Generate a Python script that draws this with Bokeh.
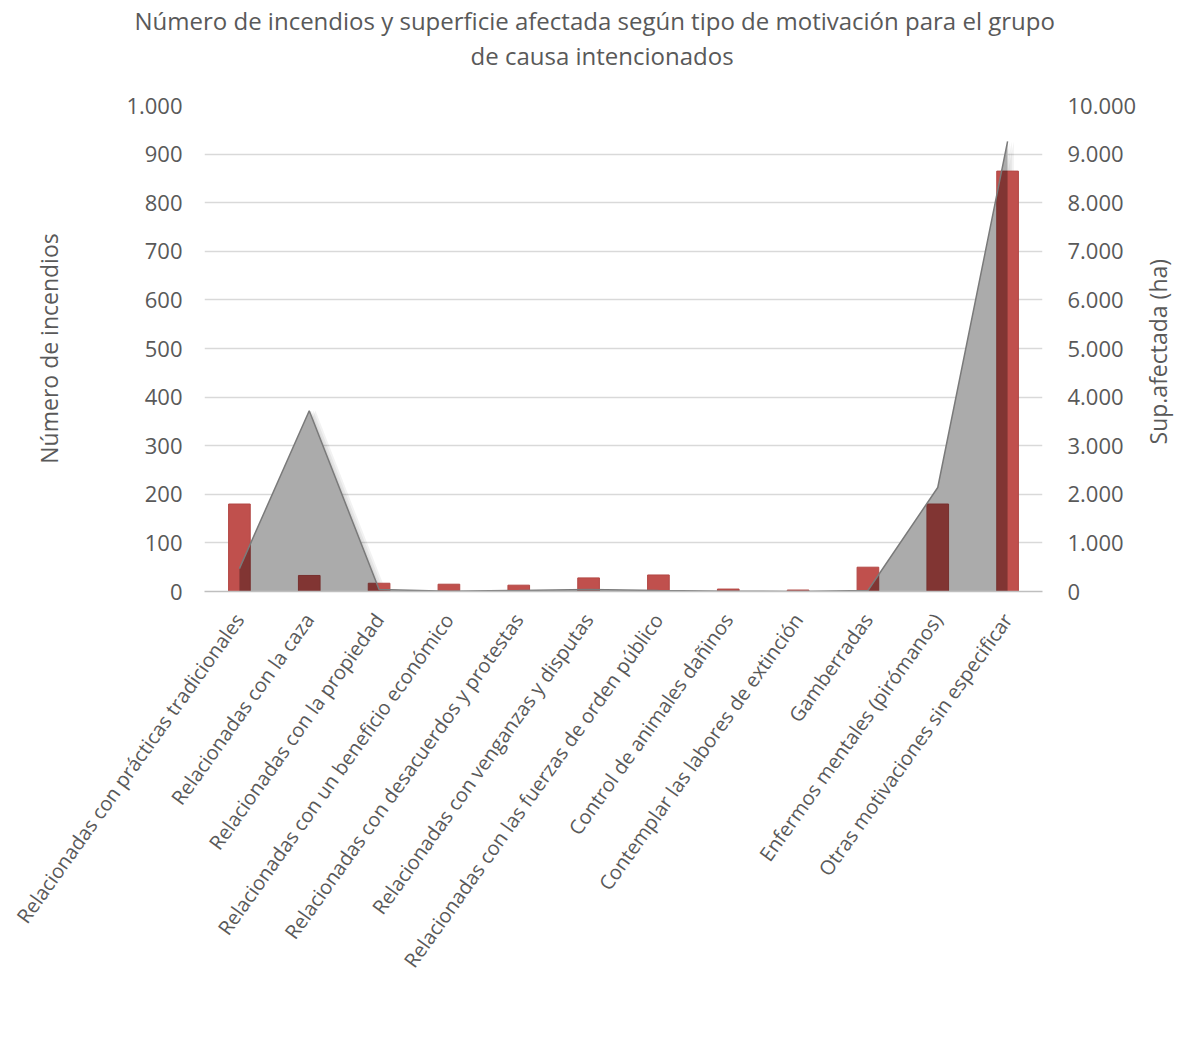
import math
from bokeh.plotting import figure
from bokeh.models import (FactorRange, Range1d, LinearAxis, FixedTicker, Legend,
                          LegendItem, Title)
from bokeh.transform import dodge
from bokeh.embed import file_html
from bokeh.resources import INLINE

# ---------------- data ----------------
categories = [
    "Relacionadas con prácticas tradicionales",
    "Relacionadas con la caza",
    "Relacionadas con la propiedad",
    "Relacionadas con un beneficio económico",
    "Relacionadas con desacuerdos y protestas",
    "Relacionadas con venganzas y disputas",
    "Relacionadas con las fuerzas de orden público",
    "Control de animales dañinos",
    "Contemplar las labores de extinción",
    "Gamberradas",
    "Enfermos mentales (pirómanos)",
    "Otras motivaciones sin especificar",
]
numero = [180, 33, 17, 15, 13, 28, 34, 5, 3, 50, 180, 865]
superficie = [470, 3720, 40, 5, 20, 40, 20, 5, 2, 20, 2140, 9260]

left_ticks = [0, 100, 200, 300, 400, 500, 600, 700, 800, 900, 1000]
left_labels = ["0", "100", "200", "300", "400", "500", "600", "700", "800", "900", "1.000"]
right_ticks = [0, 1000, 2000, 3000, 4000, 5000, 6000, 7000, 8000, 9000, 10000]
right_labels = ["0", "1.000", "2.000", "3.000", "4.000", "5.000", "6.000", "7.000",
                "8.000", "9.000", "10.000"]

title_1 = "Número de incendios y superficie afectada según tipo de motivación para el grupo"
title_2 = "de causa intencionados"
left_title = "Número de incendios"
right_title = "Sup.afectada (ha)"

FONT = "Open Sans"
TXT = "#595959"
FW, FH = 838, 486

p = figure(x_range=FactorRange(factors=categories), y_range=Range1d(0, 1000),
           frame_width=FW, frame_height=FH,
           min_border_left=204, min_border_right=144, min_border_top=105, min_border_bottom=436,
           output_backend="svg", toolbar_location=None, title=None)
p.extra_y_ranges = {"sup": Range1d(0, 10000)}
p.outline_line_color = None
p.background_fill_color = "white"
p.border_fill_color = "white"

p.xgrid.grid_line_color = None
p.ygrid.grid_line_color = "#D9D9D9"
p.ygrid.grid_line_width = 1.5

# left axis
ya = p.yaxis[0]
ya.ticker = FixedTicker(ticks=left_ticks)
ya.major_label_overrides = {t: l for t, l in zip(left_ticks, left_labels)}
ya.axis_line_color = None
ya.major_tick_line_color = None
ya.minor_tick_line_color = None
ya.major_label_text_font = FONT
ya.major_label_text_font_size = "22px"
ya.major_label_text_color = TXT
ya.major_label_standoff = 16
ya.axis_label = left_title
ya.axis_label_text_font = FONT
ya.axis_label_text_font_size = "23px"
ya.axis_label_text_font_style = "normal"
ya.axis_label_text_color = TXT
ya.axis_label_standoff = 58

# right axis (tick labels)
ra = LinearAxis(y_range_name="sup", ticker=FixedTicker(ticks=right_ticks))
ra.major_label_overrides = {t: l for t, l in zip(right_ticks, right_labels)}
ra.axis_line_color = None
ra.major_tick_line_color = None
ra.minor_tick_line_color = None
ra.major_label_text_font = FONT
ra.major_label_text_font_size = "22px"
ra.major_label_text_color = TXT
ra.major_label_standoff = 19
p.add_layout(ra, "right")

# right axis title, drawn as a rotated (bottom-to-top) label of a helper axis
RT_POS = 3025  # start of the rotated text on the "sup" scale
rt = LinearAxis(y_range_name="sup", ticker=FixedTicker(ticks=[RT_POS]))
rt.major_label_overrides = {RT_POS: right_title}
rt.major_label_orientation = math.pi / 2
rt.axis_line_color = None
rt.major_tick_line_color = None
rt.minor_tick_line_color = None
rt.major_tick_out = 0
rt.major_label_text_font = FONT
rt.major_label_text_font_size = "23px"
rt.major_label_text_color = TXT
rt.major_label_standoff = 19
p.add_layout(rt, "right")

# bottom axis
xa = p.xaxis[0]
xa.axis_line_color = "#BFBFBF"
xa.axis_line_width = 1.5
xa.major_tick_line_color = None
xa.minor_tick_line_color = None
xa.major_tick_out = 0
xa.major_label_orientation = 0.95
xa.major_label_text_font = FONT
xa.major_label_text_font_size = "20px"
xa.major_label_text_color = TXT
xa.major_label_standoff = 24

# titles (nearest first)
t2 = Title(text=title_2, align="left", offset=266, text_font=FONT, text_font_size="24px",
           text_font_style="normal", text_color=TXT, standoff=68)
t1 = Title(text=title_1, align="left", offset=-70, text_font=FONT, text_font_size="24px",
           text_font_style="normal", text_color=TXT, standoff=-68)
p.add_layout(t2, "above")
p.add_layout(t1, "above")

# area shadow
for d in [0.03, 0.06, 0.09]:
    p.varea(x=dodge("x", d, range=p.x_range), y1=0, y2="y",
            source=dict(x=categories, y=superficie), y_range_name="sup",
            fill_color="black", fill_alpha=0.05)
# opaque white base of area (hides gridlines)
p.varea(x=categories, y1=0, y2=superficie, y_range_name="sup", fill_color="white")
# bars
bars = p.vbar(x=categories, top=numero, width=0.31, fill_color="#C0504D",
              line_color="#B24744", line_width=1)
# translucent area on top
area = p.varea(x=categories, y1=0, y2=superficie, y_range_name="sup",
               fill_color="black", fill_alpha=0.33)
p.line(x=categories, y=superficie, y_range_name="sup", line_color="#7A7A7A", line_width=1.5)

# legend
leg_sup = p.scatter(x=[], y=[], marker="square", size=14, fill_color="#A5A5A5",
                    line_color="#7F7F7F", line_width=1.5)
leg_num = p.scatter(x=[], y=[], marker="square", size=14, fill_color="#C0504D",
                    line_color="#C0504D")
legend = Legend(items=[LegendItem(label="Superficie", renderers=[leg_sup]),
                       LegendItem(label="Número", renderers=[leg_num])],
                orientation="horizontal", location=(285, 0),
                label_text_font=FONT, label_text_font_size="20px", label_text_color=TXT,
                border_line_color=None, background_fill_alpha=0,
                glyph_width=16, glyph_height=16, spacing=18, label_standoff=4,
                padding=0, margin=0)
p.add_layout(legend, "below")

open("out.html", "w").write(file_html(p, INLINE))
